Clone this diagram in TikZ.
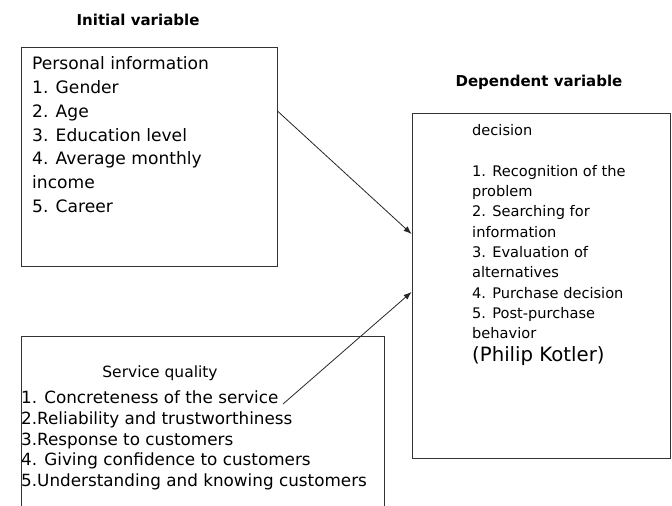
\documentclass[tikz,border=0pt]{standalone}
\usepackage{fontspec}
\setmainfont{DejaVu Sans}
\usetikzlibrary{arrows.meta}
\begin{document}
\begin{tikzpicture}[x=1pt,y=-1pt,
  box/.style={draw=black!80, line width=0.9pt, inner sep=0pt, rectangle},
  lbl/.style={inner sep=0pt, anchor=north west, align=left},
  title/.style={font=\fontsize{15}{18}\selectfont\bfseries, inner sep=0pt},
  link/.style={draw=black!85, line width=0.8pt, -{Latex[length=8pt,width=6pt]}}]
\clip (0,0) rectangle (672,506);
\useasboundingbox (0,0) rectangle (672,506);
% boxes
\node[box, minimum width=256pt, minimum height=219pt] (pers) at (149,156.5) {};
\node[box, minimum width=258pt, minimum height=345pt] (dec) at (541,285.5) {};
\node[box, minimum width=363pt, minimum height=190pt] (serv) at (202.5,431) {};
% titles
\node[title] (t1) at (138,20) {Initial variable};
\node[title] (t2) at (539,82) {Dependent variable};
% texts
\node[lbl, font=\fontsize{17.1}{23.8}\selectfont] (ptxt) at (32,56.5)
  {Personal information\\1. Gender\\2. Age\\3. Education level\\4. Average monthly\\income\\5. Career};
\node[lbl, font=\fontsize{14.6}{20.3}\selectfont] (dtxt) at (472,124.5)
  {decision\\[20.3pt]1. Recognition of the\\problem\\2. Searching for\\information\\3. Evaluation of\\alternatives\\4. Purchase decision\\5. Post-purchase\\behavior};
\node[inner sep=0pt, anchor=west, font=\fontsize{19.7}{24}\selectfont] (kot) at (472,356) {(Philip Kotler)};
\node[inner sep=0pt, font=\fontsize{15.5}{20}\selectfont] (sq) at (160,373) {Service quality};
\node[lbl, font=\fontsize{16.8}{20.75}\selectfont] (stxt) at (21,390.6)
  {1. Concreteness of the service\\2.Reliability and trustworthiness\\3.Response to customers\\4. Giving confidence to customers\\5.Understanding and knowing customers};
% connectors
\coordinate (y1) at (0,111);
\coordinate (y2) at (0,234);
\coordinate (y3) at (0,292);
\coordinate (a2s) at (283,404);
\draw[link] (pers.east |- y1) -- (dec.west |- y2);
\draw[link] (a2s) -- (dec.west |- y3);
\end{tikzpicture}
\end{document}
